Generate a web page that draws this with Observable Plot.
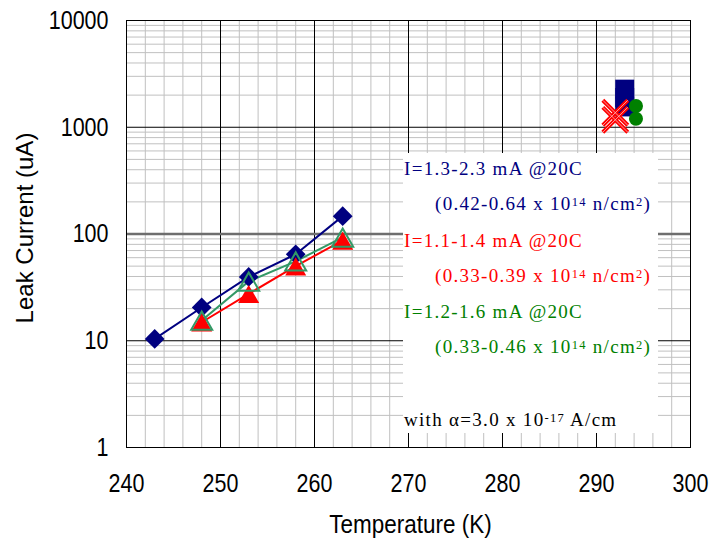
<!DOCTYPE html>
<html>
<head>
<meta charset="utf-8">
<script src="https://cdn.jsdelivr.net/npm/d3@7"></script>
<script src="https://cdn.jsdelivr.net/npm/@observablehq/plot@0.6"></script>
<style>
  html, body { margin: 0; padding: 0; background: #fff; }
</style>
</head>
<body>
<div id="chart"></div>
<script>
// ---- Data ----
const tempBlue = [243, 248, 253, 258, 263];
const leakBlue = [10.4, 20.5, 39.6, 64.6, 147];
const tempRed = [248, 253, 258, 263];
const leakRed = [14.9, 27.5, 50, 87];
const tempGreen = [248, 253, 258, 263];
const leakGreen = [15.5, 36, 55.5, 93];

const tempBlueHot = [293, 293, 293];
const leakBlueHot = [1550, 1900, 2275];
const tempRedHot = [292, 292];
const leakRedHot = [1175, 1367];
const tempGreenHot = [294.2, 294.2];
const leakGreenHot = [1200, 1580];

// ---- Tick labels / grid values ----
const xTicks = [240, 250, 260, 270, 280, 290, 300];
const yTicks = [1, 10, 100, 1000, 10000];
const xMajor = [250, 260, 270, 280, 290];
const xMinor = d3.range(242, 300, 2).filter(v => v % 10 !== 0);
const yMajorBlack = [10, 1000];
const yMajorGray = [100];
const yMinor = [1, 10, 100, 1000].flatMap(d => [2, 3, 4, 5, 6, 7, 8, 9].map(k => k * d));

const xLabel = "Temperature (K)";
const yLabel = "Leak Current (uA)";

const legendText = [
  ["I=1.3-2.3 mA @20C"],
  ["(0.42-0.64 x 10", "^14", " n/cm", "^2", ")"],
  ["I=1.1-1.4 mA @20C"],
  ["(0.33-0.39 x 10", "^14", " n/cm", "^2", ")"],
  ["I=1.2-1.6 mA @20C"],
  ["(0.33-0.46 x 10", "^14", " n/cm", "^2", ")"],
  ["with α=3.0 x 10", "^-17", " A/cm"]
];
const legendColors = ["#000080", "#000080", "#ff0000", "#ff0000", "#008000", "#008000", "#000000"];
const legendIndent = [0, 1, 0, 1, 0, 1, 0];

// ---- Build tables ----
const zipT = (xs, ys) => xs.map((x, i) => ({t: x, v: ys[i]}));
const blue = zipT(tempBlue, leakBlue);
const red = zipT(tempRed, leakRed);
const green = zipT(tempGreen, leakGreen);
const blueHot = zipT(tempBlueHot, leakBlueHot);
const redHot = zipT(tempRedHot, leakRedHot);
const greenHot = zipT(tempGreenHot, leakGreenHot);

const sans = "'Liberation Sans', Arial, sans-serif";
const serif = "'Liberation Serif', 'Times New Roman', serif";

function legendMark(index, scales, values, dims) {
  const g = d3.create("svg:g").attr("text-anchor", "start");
  const left = dims.marginLeft + 277;
  const top = dims.marginTop + 133;
  g.append("rect")
    .attr("x", left).attr("y", top)
    .attr("width", 255).attr("height", 280)
    .attr("fill", "white");
  const baselines = [22, 57, 94, 129, 165, 200, 273];
  legendText.forEach((parts, i) => {
    const line = g.append("text")
      .attr("x", left + (legendIndent[i] ? 32 : 1))
      .attr("y", top + baselines[i])
      .attr("text-anchor", "start")
      .attr("fill", legendColors[i])
      .attr("font-family", serif)
      .attr("font-size", 19)
      .attr("letter-spacing", 1.3);
    let raised = false;
    parts.forEach(p => {
      if (p.startsWith("^")) {
        line.append("tspan").attr("font-size", 12.5).attr("dy", -4).text(p.slice(1));
        raised = true;
      } else {
        const ts = line.append("tspan").text(p);
        if (raised) { ts.attr("dy", 4); raised = false; }
      }
    });
  });
  return g.node();
}

const chart = Plot.plot({
  width: 711,
  height: 544,
  marginLeft: 126,
  marginRight: 21,
  marginTop: 20,
  marginBottom: 97,
  style: {background: "white", fontFamily: sans, color: "#000"},
  x: {domain: [240, 300], label: null},
  y: {type: "log", domain: [1, 10000], label: null},
  marks: [
    Plot.ruleX(xMinor, {stroke: "#c0c0c0", strokeWidth: 1}),
    Plot.ruleY(yMinor, {stroke: "#c0c0c0", strokeWidth: 1}),
    Plot.ruleX(xMajor, {stroke: "#000", strokeWidth: 1}),
    Plot.ruleY(yMajorBlack, {stroke: "#000", strokeWidth: 1}),
    Plot.ruleY(yMajorGray, {stroke: "#6e6e6e", strokeWidth: 2.5}),
    legendMark,
    Plot.line(blue, {x: "t", y: "v", stroke: "#000080", strokeWidth: 2}),
    Plot.line(red, {x: "t", y: "v", stroke: "#ff0000", strokeWidth: 2}),
    Plot.line(green, {x: "t", y: "v", stroke: "#339966", strokeWidth: 2}),
    Plot.dot(blue, {x: "t", y: "v", symbol: "diamond2", r: 8.9, fill: "#000080"}),
    Plot.dot(red, {x: "t", y: "v", symbol: "triangle", r: 7.8, fill: "#ff0000", dy: 3.2}),
    Plot.dot(green, {x: "t", y: "v", symbol: "triangle", r: 7.8, fill: "none", stroke: "#339966", strokeWidth: 2, dy: 3.2}),
    Plot.dot(blueHot, {x: "t", y: "v", symbol: "square", r: 10.7, fill: "#000080"}),
    Plot.dot(redHot, {x: "t", y: "v", symbol: "times", r: 11.4, fill: "none", stroke: "#ff0000", strokeWidth: 4}),
    Plot.dot(redHot, {x: "t", y: "v", symbol: "times", r: 11.4, fill: "none", stroke: "#ffc0c0", strokeWidth: 0.8}),
    Plot.dot(greenHot, {x: "t", y: "v", symbol: "circle", r: 7, fill: "#008000"}),
    Plot.axisX({ticks: xTicks, tickSize: 0, tickPadding: 26, tickFormat: d => String(d), label: null, fontSize: 21.5, fontFamily: sans}),
    Plot.axisY({ticks: yTicks, tickSize: 0, tickPadding: 18, tickFormat: d => String(d), label: null, fontSize: 21.5, fontFamily: sans}),
    Plot.text([xLabel], {frameAnchor: "bottom", lineAnchor: "middle", textAnchor: "middle", dy: 77.5, dx: 2, fontSize: 22.5, fontFamily: sans, fill: "#000"}),
    Plot.text([yLabel], {frameAnchor: "left", rotate: -90, lineAnchor: "middle", textAnchor: "middle", dx: -101, dy: -6, fontSize: 24, fontFamily: sans, fill: "#000"}),
    Plot.frame({stroke: "#000", strokeWidth: 1})
  ]
});

// Stretch tick label glyphs vertically to match the reference's tall lettering
const stretch = (sel, k) => sel.each(function () {
  const tr = this.getAttribute("transform") || "";
  this.setAttribute("transform", tr + ` scale(1,${k})`);
});
const root = d3.select(chart);
stretch(root.selectAll("g[aria-label='x-axis tick label'] text"), 1.2);
stretch(root.selectAll("g[aria-label='y-axis tick label'] text"), 1.2);
stretch(root.selectAll("text").filter(function () { return this.textContent === xLabel; }), 1.12);

document.getElementById("chart").appendChild(chart);
</script>
</body>
</html>
